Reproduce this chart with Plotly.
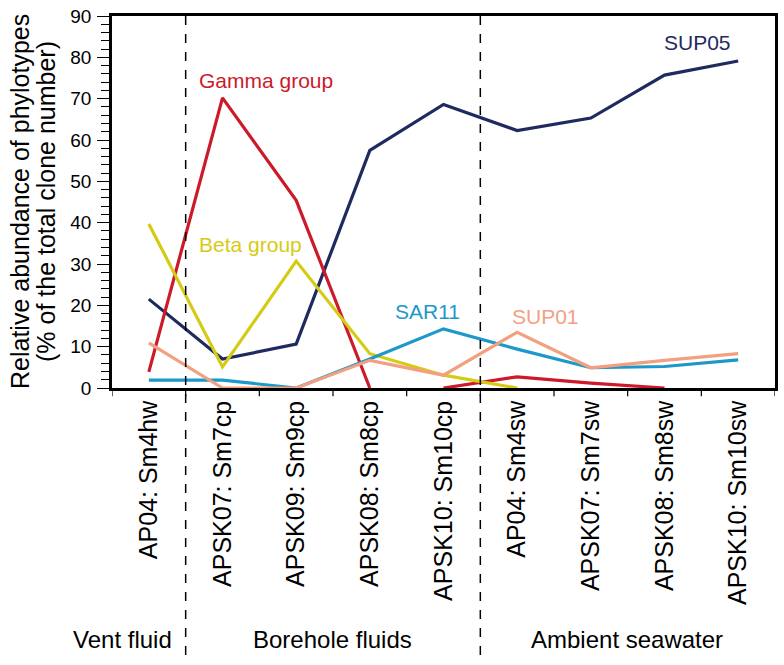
import plotly.graph_objects as go

categories = ["AP04: Sm4hw", "APSK07: Sm7cp", "APSK09: Sm9cp", "APSK08: Sm8cp",
              "APSK10: Sm10cp", "AP04: Sm4sw", "APSK07: Sm7sw", "APSK08: Sm8sw",
              "APSK10: Sm10sw"]
sup05 = [21.5, 7.0, 10.6, 57.5, 68.6, 62.3, 65.3, 75.7, 79.1]
gamma = [3.9, 70.2, 45.4, 0, None, None, None, None, None]
gamma_b = [None, None, None, None, 0, 2.7, 1.2, 0, None]
beta = [39.7, 5.1, 30.7, 8.3, 3.1, 0, None, None, None]
sar11 = [1.9, 1.9, 0, 7.0, 14.3, 9.4, 4.9, 5.2, 6.8]
sup01 = [10.9, 0, 0, 6.7, 3.1, 13.5, 4.9, 6.7, 8.3]

y_tick_vals = list(range(0, 91, 2))
y_tick_text = [str(v) if v % 10 == 0 else "" for v in y_tick_vals]

series = [
    ("SUP05", sup05, "#1f2a5e"),
    ("Gamma group", gamma, "#cc1a2b"),
    ("Gamma group b", gamma_b, "#cc1a2b"),
    ("Beta group", beta, "#d6cb14"),
    ("SAR11", sar11, "#1c98c9"),
    ("SUP01", sup01, "#f2a07f"),
]

FONT = "Liberation Sans, Arial, Helvetica, sans-serif"
fig = go.Figure()
xs = list(range(len(categories)))
for name, vals, col in series:
    fig.add_trace(go.Scatter(x=xs, y=vals, mode="lines", name=name,
                             line=dict(color=col, width=3.2), cliponaxis=True,
                             connectgaps=False, showlegend=False))
# invisible trace to carry the major-tick axis
fig.add_trace(go.Scatter(x=[0], y=[0], yaxis="y2", mode="markers",
                         marker=dict(opacity=0), showlegend=False, hoverinfo="skip"))

labels = [
    ("Gamma group", 0.66, 74.4, "#cc1a2b"),
    ("Beta group", 0.66, 34.8, "#d6cb14"),
    ("SAR11", 3.32, 18.6, "#1c98c9"),
    ("SUP01", 4.9, 17.4, "#f2a07f"),
    ("SUP05", 6.96, 83.6, "#1f2a5e"),
]
for t, x, y, c in labels:
    fig.add_annotation(x=x, y=y, text=t, showarrow=False, xanchor="left",
                       yanchor="middle", font=dict(color=c, size=21, family=FONT))

groups = [("Vent fluid", -0.36), ("Borehole fluids", 2.49), ("Ambient seawater", 6.49)]
for t, x in groups:
    fig.add_annotation(x=x, y=-0.676, xref="x", yref="paper", text=t, showarrow=False,
                       xanchor="center", yanchor="middle",
                       font=dict(size=24, color="black", family=FONT))

for xb in [0.5, 4.5]:
    fig.add_shape(type="line", x0=xb, x1=xb, y0=1, y1=-0.73, xref="x", yref="paper",
                  line=dict(color="black", width=1.5, dash="dash"))

for t, shift in [("Relative abundance of phylotypes", -92),
                 ("(% of the total clone number)", -66)]:
    fig.add_annotation(x=0, y=0.5, xref="paper", yref="paper", textangle=-90,
                       xanchor="center", yanchor="middle", xshift=shift,
                       text=t, showarrow=False,
                       font=dict(size=25, color="black", family=FONT))

fig.update_layout(
    width=784, height=665,
    margin=dict(l=112, r=6, t=15, b=277),
    plot_bgcolor="white", paper_bgcolor="white",
    font=dict(family=FONT, color="black"),
    xaxis=dict(range=[-0.5, 8.5], tickmode="array", tickvals=xs, ticktext=categories,
               tickangle=-90, ticks="", showgrid=False, zeroline=False,
               showline=True, linecolor="black", linewidth=2.5, mirror=True,
               tickfont=dict(size=25, family=FONT)),
    yaxis=dict(range=[0, 90], tickmode="array", tickvals=y_tick_vals,
               ticktext=y_tick_text, ticks="outside", ticklen=8, tickwidth=1.2,
               ticklabelstandoff=6,
               tickcolor="black", showgrid=False, zeroline=False, showline=True,
               linecolor="black", linewidth=2.5, mirror=True,
               tickfont=dict(size=19, family=FONT)),
    yaxis2=dict(range=[0, 90], overlaying="y", side="left", anchor="x",
                tickmode="linear", tick0=0, dtick=10, ticks="outside", ticklen=14,
                tickwidth=1.2, tickcolor="black", showticklabels=False,
                showgrid=False, zeroline=False, showline=False),
)

for b in [i - 0.5 for i in range(len(categories) + 1)]:
    fig.add_shape(type="line", x0=b, x1=b, y0=0, y1=-0.022, xref="x", yref="paper",
                  line=dict(color="black", width=1.2))

fig.write_html("out.html", config={"displayModeBar": False},
               post_script="document.body.style.margin='0px';")
